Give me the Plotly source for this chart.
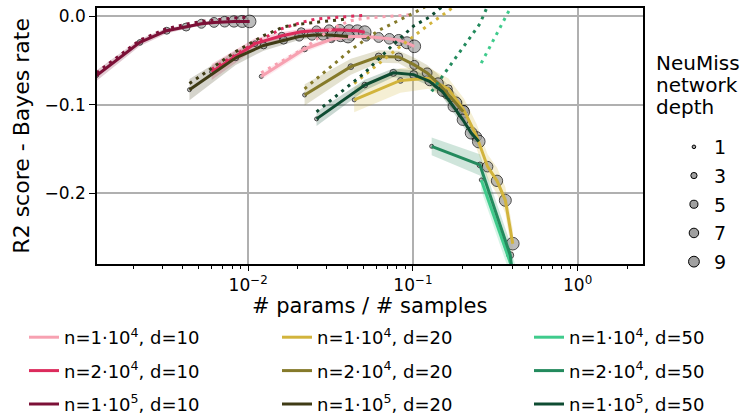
import plotly.graph_objects as go

# ---------------- data ----------------
depths = [1, 2, 3, 4, 5, 6, 7, 8, 9, 10]

labels = {
    "n1e4_d10": "n=1·10<sup>4</sup>, d=10",
    "n2e4_d10": "n=2·10<sup>4</sup>, d=10",
    "n1e5_d10": "n=1·10<sup>5</sup>, d=10",
    "n1e4_d20": "n=1·10<sup>4</sup>, d=20",
    "n2e4_d20": "n=2·10<sup>4</sup>, d=20",
    "n1e5_d20": "n=1·10<sup>5</sup>, d=20",
    "n1e4_d50": "n=1·10<sup>4</sup>, d=50",
    "n2e4_d50": "n=2·10<sup>4</sup>, d=50",
    "n1e5_d50": "n=1·10<sup>5</sup>, d=50",
}
colors = {
    "n1e4_d10": "#f7a1b1",
    "n2e4_d10": "#dc2b5c",
    "n1e5_d10": "#7c1037",
    "n1e4_d20": "#d2b43c",
    "n2e4_d20": "#857a2a",
    "n1e5_d20": "#3f3b15",
    "n1e4_d50": "#3fcb8c",
    "n2e4_d50": "#238a5d",
    "n1e5_d50": "#0e4c32",
}

# x: # params / # samples
x_n1e4_d10 = [0.012, 0.022, 0.032, 0.042, 0.052, 0.062, 0.072, 0.082, 0.092, 0.102]
x_n2e4_d10 = [0.006, 0.011, 0.016, 0.021, 0.026, 0.031, 0.036, 0.041, 0.046, 0.051]
x_n1e5_d10 = [0.0012, 0.0022, 0.0032, 0.0042, 0.0052, 0.0062, 0.0072, 0.0082, 0.0092, 0.0102]
x_n1e4_d20 = [0.044, 0.084, 0.124, 0.164, 0.204, 0.244, 0.284, 0.324, 0.364, 0.404]
x_n2e4_d20 = [0.022, 0.042, 0.062, 0.082, 0.102, 0.122, 0.142, 0.162, 0.182, 0.202]
x_n1e5_d20 = [0.0044, 0.0084, 0.0124, 0.0164, 0.0204, 0.0244, 0.0284, 0.0324, 0.0364, 0.0404]
x_n1e4_d50 = [0.26, 0.51]
x_n2e4_d50 = [0.13, 0.255, 0.39, 0.505]
x_n1e5_d50 = [0.026, 0.051, 0.076, 0.101, 0.126, 0.151, 0.176, 0.201, 0.226, 0.251]

# test score (solid lines)
test_n1e4_d10 = [-0.068, -0.037, -0.026, -0.023, -0.023, -0.024, -0.0255, -0.027, -0.030, -0.034]
test_n2e4_d10 = [-0.063, -0.031, -0.022, -0.0175, -0.016, -0.0153, -0.0153, -0.016, -0.0165, -0.018]
test_n1e5_d10 = [-0.067, -0.0296, -0.0164, -0.0122, -0.0085, -0.007, -0.0062, -0.0059, -0.0059, -0.0059]
test_n1e4_d20 = [-0.0945, -0.0726, -0.070, -0.082, -0.106, -0.136, -0.170, -0.186, -0.208, -0.257]
test_n2e4_d20 = [-0.089, -0.057, -0.0455, -0.046, -0.055, -0.064, -0.0756, -0.087, -0.098, -0.108]
test_n1e5_d20 = [-0.083, -0.047, -0.033, -0.027, -0.023, -0.0215, -0.021, -0.0215, -0.022, -0.023]
test_n1e4_d50 = [-0.185, -0.34]
test_n2e4_d50 = [-0.147, -0.168, -0.27, -0.45]
test_n1e5_d50 = [-0.116, -0.0778, -0.064, -0.066, -0.0735, -0.085, -0.102, -0.117, -0.132, -0.1416]

# spread (half width of shaded band)
sd_n1e4_d10 = [0.004, 0.004, 0.003, 0.003, 0.003, 0.003, 0.003, 0.003, 0.003, 0.003]
sd_n2e4_d10 = [0.009, 0.006, 0.004, 0.003, 0.003, 0.003, 0.003, 0.003, 0.003, 0.003]
sd_n1e5_d10 = [0.006, 0.004, 0.003, 0.002, 0.002, 0.002, 0.002, 0.002, 0.002, 0.002]
sd_n1e4_d20 = [0.014, 0.014, 0.012, 0.012, 0.013, 0.014, 0.014, 0.015, 0.015, 0.016]
sd_n2e4_d20 = [0.012, 0.009, 0.007, 0.007, 0.008, 0.009, 0.010, 0.010, 0.011, 0.012]
sd_n1e5_d20 = [0.012, 0.008, 0.006, 0.005, 0.004, 0.004, 0.004, 0.004, 0.004, 0.004]
sd_n1e4_d50 = [0.012, 0.015]
sd_n2e4_d50 = [0.010, 0.012, 0.014, 0.016]
sd_n1e5_d50 = [0.008, 0.006, 0.005, 0.005, 0.005, 0.006, 0.006, 0.007, 0.007, 0.008]

# train score (dotted lines)
train_n1e4_d10 = [-0.064, -0.036, -0.014, -0.005, -0.002, -0.001, 0.0, 0.001, 0.0015, 0.002]
train_n2e4_d10 = [-0.060, -0.030, -0.014, -0.007, -0.003, -0.002, -0.001, 0.0, 0.0005, 0.001]
train_n1e5_d10 = [-0.064, -0.027, -0.014, -0.009, -0.006, -0.004, -0.003, -0.002, -0.0015, -0.001]
train_n1e4_d20 = [-0.076, -0.034, -0.010, 0.006, 0.02, 0.035, 0.05, 0.06, 0.07, 0.08]
train_n2e4_d20 = [-0.082, -0.038, -0.016, -0.005, 0.004, 0.012, 0.02, 0.03, 0.035, 0.04]
train_n1e5_d20 = [-0.076, -0.040, -0.022, -0.012, -0.009, -0.007, -0.006, -0.005, -0.004, -0.003]
train_n1e4_d50 = [-0.053, 0.05]
train_n2e4_d50 = [-0.085, -0.0085, 0.07, 0.15]
train_n1e5_d50 = [-0.108, -0.064, -0.032, -0.011, -0.001, 0.011, 0.02, 0.03, 0.04, 0.05]

keys = ["n1e4_d10", "n2e4_d10", "n1e5_d10", "n1e4_d20", "n2e4_d20", "n1e5_d20",
        "n1e4_d50", "n2e4_d50", "n1e5_d50"]
X = {k: globals()["x_" + k] for k in keys}
TEST = {k: globals()["test_" + k] for k in keys}
SD = {k: globals()["sd_" + k] for k in keys}
TRAIN = {k: globals()["train_" + k] for k in keys}

legend_depths = [1, 3, 5, 7, 9]


def msize(d):
    return 4.0 * d ** 0.5


def rgba(h, a):
    h = h.lstrip("#")
    r, g, b = int(h[0:2], 16), int(h[2:4], 16), int(h[4:6], 16)
    return f"rgba({r},{g},{b},{a})"


fig = go.Figure()

# shaded bands
for k in keys:
    xs, ys, sd = X[k], TEST[k], SD[k]
    up = [y + s for y, s in zip(ys, sd)]
    lo = [y - s for y, s in zip(ys, sd)]
    fig.add_trace(go.Scatter(x=xs + xs[::-1], y=up + lo[::-1], fill="toself",
                             fillcolor=rgba(colors[k], 0.22), line=dict(width=0),
                             mode="lines", hoverinfo="skip", showlegend=False))

# markers sized by depth
for k in keys:
    xs = X[k]
    fig.add_trace(go.Scatter(x=xs, y=TEST[k], mode="markers",
                             marker=dict(size=[msize(d) for d in depths[:len(xs)]],
                                         color="#a0a0a0",
                                         line=dict(color="black", width=1)),
                             showlegend=False, hoverinfo="skip"))

# solid lines (test) - one legend column per d
col_legend = {"d10": "legend", "d20": "legend3", "d50": "legend4"}
for k in keys:
    nk, dk = k.split("_")
    fig.add_trace(go.Scatter(x=X[k], y=TEST[k], mode="lines",
                             line=dict(color=colors[k], width=3),
                             name=labels[k], legend=col_legend[dk], legendgroup=k))

# dotted lines (train)
for k in keys:
    fig.add_trace(go.Scatter(x=X[k], y=TRAIN[k], mode="lines",
                             line=dict(color=colors[k], width=3, dash="3px,5px"),
                             showlegend=False, hoverinfo="skip"))

# depth legend
for i, d in enumerate(legend_depths):
    fig.add_trace(go.Scatter(x=[None], y=[None], mode="markers",
                             marker=dict(size=msize(d) * 0.9, color="#a0a0a0",
                                         line=dict(color="black", width=1)),
                             name=str(d), legend="legend2", legendgroup=f"g{i}"))

font = "DejaVu Sans"
minor_x = [m * 10 ** e for e in (-3, -2, -1, 0) for m in range(2, 10)]

PL, PR, PT, PB = 96.5, 643.5, 8.0, 264.0


def px_x(v):
    return (v - PL) / (PR - PL)


def px_y(v):
    return (PB - v) / (PB - PT)


def col_leg(xpx):
    return dict(xref="container", yref="container", x=xpx / 753, y=(415 - 319) / 415,
                xanchor="left", yanchor="top", traceorder="grouped", tracegroupgap=7,
                font=dict(size=18), itemwidth=30, bgcolor="rgba(0,0,0,0)")


annotations = [dict(text=t, xref="paper", yref="paper",
                    x=px_x(655), y=px_y(yc), xanchor="left", yanchor="middle",
                    showarrow=False, align="left", font=dict(size=20))
               for t, yc in [("NeuMiss", 63), ("network", 85), ("depth", 107)]]
annotations.append(dict(text="# params / # samples", xref="paper", yref="paper",
                        x=px_x(369), y=px_y(306), xanchor="center", yanchor="middle",
                        showarrow=False, font=dict(size=21)))
annotations.append(dict(text="R2 score - Bayes rate", xref="paper", yref="paper",
                        x=px_x(20), y=px_y(136), xanchor="center", yanchor="middle",
                        textangle=-90, showarrow=False, font=dict(size=22)))

fig.update_layout(
    width=753, height=415,
    margin=dict(l=PL, r=753 - PR, t=PT, b=415 - PB, autoexpand=False),
    plot_bgcolor="white", paper_bgcolor="white",
    font=dict(family=font, size=17, color="black"),
    xaxis=dict(type="log", range=[-2.918, 0.397], automargin=False,
               tickvals=[0.01, 0.1, 1],
               ticktext=["10<sup>−2</sup>", "10<sup>−1</sup>", "10<sup>0</sup>"],
               ticks="outside", ticklen=5, tickwidth=1.3, tickcolor="black",
               minor=dict(tickvals=minor_x, ticks="outside", ticklen=3.5,
                          tickwidth=1, tickcolor="black", showgrid=False),
               showgrid=True, gridcolor="#b0b0b0", gridwidth=1.5,
               showline=True, linecolor="black", linewidth=1.5, mirror=True,
               zeroline=False),
    yaxis=dict(range=[-0.28, 0.0093], automargin=False,
               tickvals=[0.0, -0.1, -0.2], tickformat=".1f",
               ticks="outside", ticklen=6, tickwidth=1.3, tickcolor="black",
               showgrid=True, gridcolor="#b0b0b0", gridwidth=1.5,
               showline=True, linecolor="black", linewidth=1.5, mirror=True,
               zeroline=False),
    legend=col_leg(24),
    legend3=col_leg(277),
    legend4=col_leg(529),
    legend2=dict(xref="container", yref="container", x=0.895, y=(415 - 128) / 415,
                 xanchor="left", yanchor="top",
                 traceorder="grouped", tracegroupgap=1,
                 font=dict(size=19), bgcolor="rgba(0,0,0,0)", itemsizing="trace"),
    showlegend=True,
    annotations=annotations,
)

fig.write_html("out.html")
